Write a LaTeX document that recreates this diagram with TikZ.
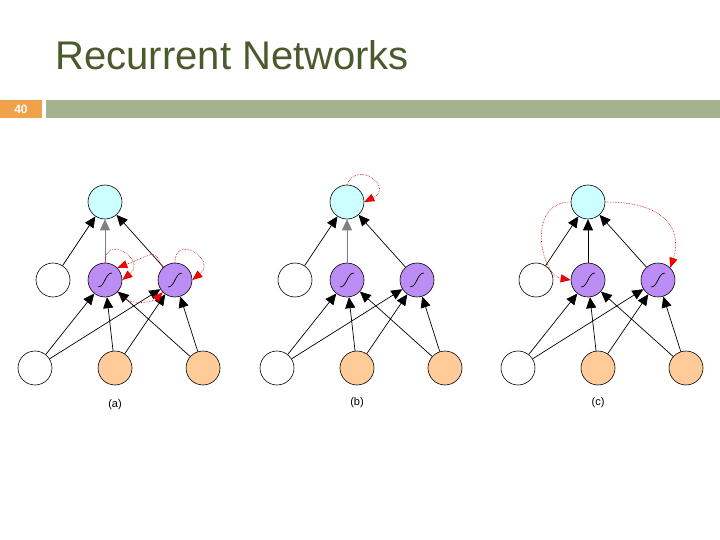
\documentclass[tikz,border=0pt]{standalone}
\usepackage{fontspec}
\setmainfont{Liberation Sans}
\usetikzlibrary{arrows.meta}
\definecolor{titlec}{HTML}{4A5A2C}
\definecolor{orangebar}{HTML}{EFA24A}
\definecolor{greenbar}{HTML}{A3B38E}
\definecolor{cyanf}{HTML}{CCFFFF}
\definecolor{purplef}{HTML}{BB8DF5}
\definecolor{orangef}{HTML}{FFCC99}
\tikzset{
  neuron/.style={circle,draw=black,line width=0.6pt,minimum size=34pt,inner sep=0pt},
  outn/.style={neuron,fill=cyanf},
  hidn/.style={neuron,fill=purplef},
  inn/.style={neuron,fill=orangef},
  ctxn/.style={neuron,fill=white},
  ff/.style={-{Triangle[length=11pt,width=10pt]},line width=0.7pt},
  ffg/.style={ff,draw=gray},
  rec/.style={-{Triangle[length=10pt,width=8pt,fill=red]},draw=red!80!black,densely dotted,line width=0.6pt},
  captext/.style={font=\fontsize{11}{12}\selectfont\rmfamily},
}
\newcommand{\sig}[1]{\draw[line width=0.7pt] ([xshift=-7pt,yshift=-7pt]#1.center) .. controls +(7pt,0) and +(-7pt,0) .. ([xshift=7pt,yshift=7pt]#1.center);}
\begin{document}
\begin{tikzpicture}[x=1pt,y=-1pt]
\useasboundingbox (0,0) rectangle (720,540);
\node[anchor=west,text=titlec,font=\fontsize{40}{44}\selectfont] (title) at (52,55) {Recurrent Networks};
\fill[orangebar] (0,100) rectangle (42,118);
\node[text=white,font=\fontsize{12}{13}\selectfont\bfseries\rmfamily] (num) at (21,109) {40};
\fill[greenbar] (46,100) rectangle (720,118);
\foreach \p/\dx/\lab/\ly in {a/0/(a)/405,b/242/(b)/403,c/483/(c)/403}{
  \node[outn] (\p o) at (105+\dx,202) {};
  \node[ctxn] (\p w) at (53+\dx,280) {};
  \node[hidn] (\p h1) at (105+\dx,280) {};
  \node[hidn] (\p h2) at (175+\dx,280) {};
  \node[ctxn] (\p i1) at (35+\dx,368) {};
  \node[inn] (\p i2) at (115+\dx,368) {};
  \node[inn] (\p i3) at (203+\dx,368) {};
  \node[captext] (\p lab) at (115+\dx,\ly) {\lab};
  \sig{\p h1}\sig{\p h2}
  \draw[ff] (\p w) -- (\p o);
  \draw[ff] (\p h2) -- (\p o);
  \foreach \i in {i1,i2,i3}{
    \draw[ff] (\p \i) -- (\p h1);
    \draw[ff] (\p \i) -- (\p h2);
  }
}
\draw[ffg] (ah1) -- (ao);
\draw[ffg] (bh1) -- (bo);
\draw[ff] (ch1) -- (co);
% (a) recurrences
\draw[rec] (ah1.north) .. controls +(0,-30) and +(25,-20) .. (ah1.east);
\draw[rec] (ah2.north) .. controls +(0,-30) and +(25,-20) .. (ah2.east);
\draw[rec] (ah2.north west) .. controls +(-10,-20) and +(40,-15) .. (ah1.north east);
\draw[rec] (ah1.south east) .. controls +(10,15) and +(-10,10) .. (ah2.south west);
% (b)
\draw[rec] (bo.north) .. controls +(10,-25) and +(30,-15) .. (bo.east);
% (c)
\draw[rec] (co.west) .. controls +(-45,0) and +(-30,-5) .. (ch1.west);
\draw[rec] (co.east) .. controls +(70,0) and +(10,-30) .. (ch2.north east);
\end{tikzpicture}
\end{document}
